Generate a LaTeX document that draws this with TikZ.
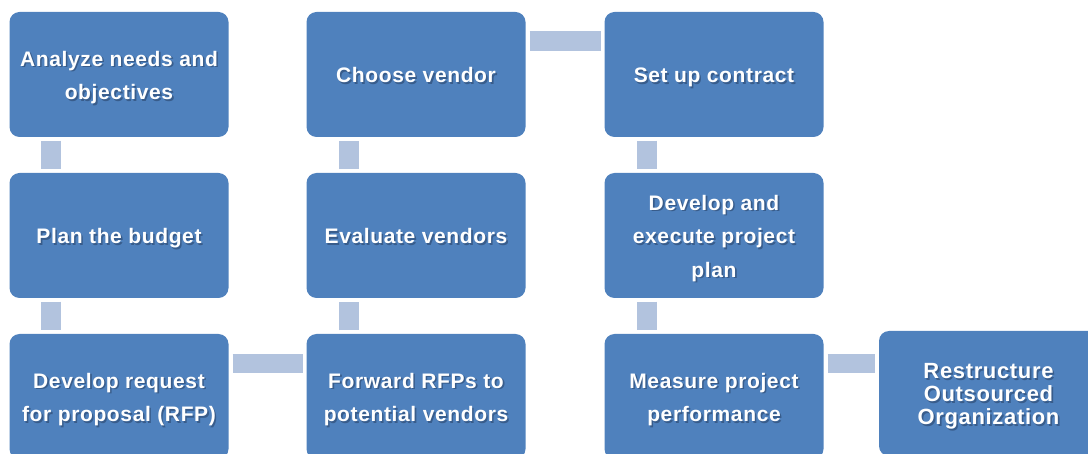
\documentclass[tikz,border=0pt]{standalone}
\usepackage{fontspec}
\newfontfamily\stagefont[LetterSpace=3]{Liberation Sans}
\newfontfamily\lastfont[LetterSpace=3]{Liberation Sans}
\usetikzlibrary{calc}
\definecolor{boxblue}{HTML}{4F81BD}
\definecolor{linkblue}{HTML}{B2C3DE}
\definecolor{shade}{HTML}{1C3150}
\tikzset{%
  stage/.style      = {shape=rectangle, rounded corners=10pt, fill=boxblue,%
                       minimum width=219pt, minimum height=125pt, inner sep=0pt},%
  stagetext/.style  = {text=white, align=center, inner sep=0pt,%
                       execute at end node=\vphantom{g},%
                       font=\stagefont\bfseries\fontsize{21}{33.5}\selectfont},%
  stageshade/.style = {stagetext, text=shade, opacity=0.45},%
  vlink/.style      = {draw=linkblue, line width=20pt, shorten <=3.5pt, shorten >=3.5pt},%
  hlink/.style      = {draw=linkblue, line width=19.5pt, shorten <=4pt, shorten >=3.5pt}%
}
% box, shadowed text, white text
\newcommand{\stagenode}[4][]{%
  \node[stage] (#2) at (#3) {};
  \node[stageshade,#1] (#2-s) at ($(#2)+(1.6,4.6)$) {#4};
  \node[stagetext,#1] (#2-t) at ($(#2)+(0,3)$) {#4};
}

\begin{document}
\begin{tikzpicture}[x=1pt,y=-1pt]
	\clip (0,0) rectangle (1088,454);
	\stagenode{analyze}{119,74.5}{Analyze needs and\\objectives}
	\stagenode{budget}{119,235.5}{Plan the budget}
	\stagenode{rfp}{119,396.5}{Develop request\\for proposal (RFP)}
	\stagenode{forward}{416,396.5}{Forward RFPs to\\potential vendors}
	\stagenode{evaluate}{416,235.5}{Evaluate vendors}
	\stagenode{choose}{416,74.5}{Choose vendor}
	\stagenode{contract}{714,74.5}{Set up contract}
	\stagenode{execute}{714,235.5}{Develop and\\execute project\\plan}
	\stagenode{measure}{714,396.5}{Measure project\\performance}
	\stagenode[font=\lastfont\bfseries\fontsize{22}{23}\selectfont]{restructure}{988.5,393.5}{Restructure\\Outsourced\\Organization}
	% connectors
	\draw[vlink] ($(analyze.south west)+(42,0)$) -- ($(budget.north west)+(42,0)$);
	\draw[vlink] ($(budget.south west)+(42,0)$) -- ($(rfp.north west)+(42,0)$);
	\draw[hlink] ($(rfp.north east)+(0,29.5)$) -- ($(forward.north west)+(0,29.5)$);
	\draw[vlink] ($(forward.north west)+(43,0)$) -- ($(evaluate.south west)+(43,0)$);
	\draw[vlink] ($(evaluate.north west)+(43,0)$) -- ($(choose.south west)+(43,0)$);
	\draw[hlink] ($(choose.north east)+(0,29)$) -- ($(contract.north west)+(0,29)$);
	\draw[vlink] ($(contract.south west)+(43,0)$) -- ($(execute.north west)+(43,0)$);
	\draw[vlink] ($(execute.south west)+(43,0)$) -- ($(measure.north west)+(43,0)$);
	\draw[hlink] ($(measure.north east)+(0,29.5)$) -- ($(restructure.north west)+(0,32.5)$);
\end{tikzpicture}
\end{document}
